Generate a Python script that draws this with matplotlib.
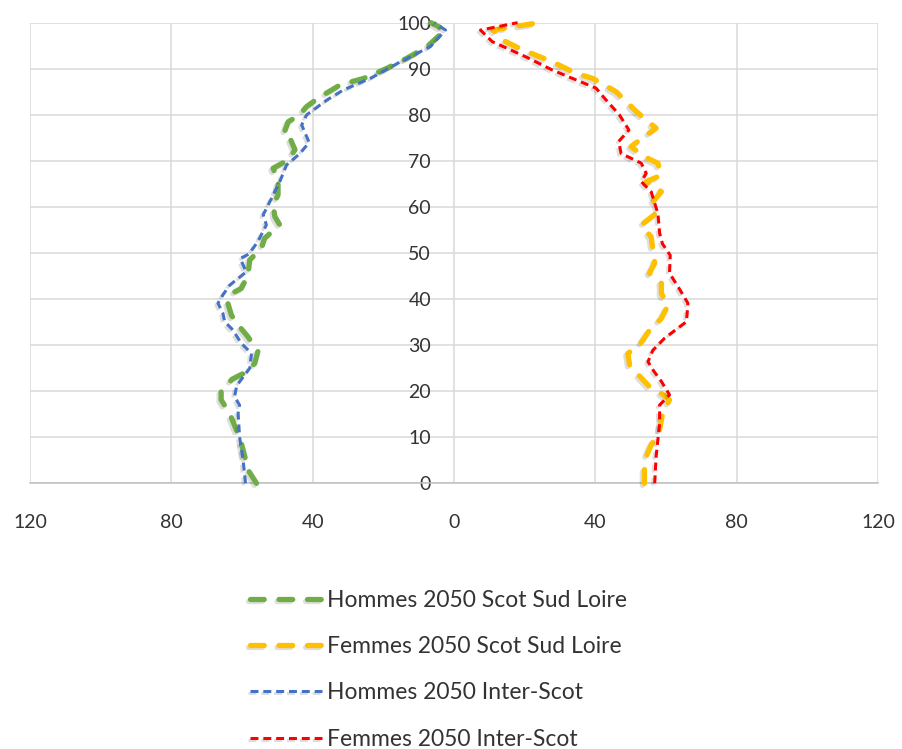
import matplotlib
matplotlib.use('Agg')
import matplotlib.pyplot as plt
from matplotlib import patheffects as pe

# ---- data ----
ages_h_sud = [0, 2.9, 5.8, 8.7, 11.6, 15.2, 18.1, 19.9, 22.6, 23.9, 26.0, 28.6, 31.8, 34.0, 36.5,
              39.1, 41.2, 42.3, 45.2, 48.5, 51.0, 53.2, 56.1, 57.9, 60.4, 62.6, 65.8, 68.4, 70.2,
              72.4, 74.9, 75.6, 78.5, 80.0, 81.8, 83.9, 86.5, 87.9, 90.1, 92.3, 94.8, 98.4, 100]
vals_h_sud = [55.9, 58.3, 59.2, 60.2, 61.6, 63.5, 65.9, 65.9, 62.8, 59.5, 56.4, 55.5, 58.3, 60.7, 63.0,
              64.0, 63.0, 60.2, 58.3, 57.8, 54.5, 53.6, 49.3, 50.7, 51.2, 49.8, 49.8, 51.2, 46.9,
              45.0, 46.4, 48.3, 46.9, 43.6, 41.7, 37.9, 32.2, 25.6, 19.0, 13.3, 7.6, 2.5, 6.5]

ages_f_sud = [0, 2.9, 5.8, 8.3, 11.6, 15.5, 18.1, 19.5, 21.0, 23.3, 25.7, 28.2, 30.0, 33.3, 35.8,
              38.7, 41.2, 43.4, 45.6, 47.8, 50.7, 53.5, 56.1, 58.6, 61.1, 63.3, 65.5, 66.9, 69.5,
              70.9, 73.1, 74.5, 77.1, 80.7, 85.0, 87.9, 89.0, 91.5, 94.1, 95.9, 98.4, 100]
vals_f_sud = [53.9, 53.9, 54.4, 55.8, 58.2, 59.1, 61.0, 58.7, 55.3, 52.5, 49.7, 49.2, 52.5, 55.4, 58.7,
              60.6, 58.7, 58.7, 55.3, 56.8, 56.3, 55.8, 53.0, 57.2, 56.3, 58.7, 54.4, 58.7, 57.7,
              53.9, 50.1, 52.5, 57.2, 51.6, 45.9, 39.3, 34.5, 27.9, 19.4, 14.6, 11.0, 24.0]

ages_h_inter = [0, 5.1, 10.1, 15.2, 17.0, 18.8, 21.2, 25.0, 28.2, 30.4, 33.3, 35.1, 36.9, 39.1, 40.9,
                43.0, 45.9, 48.8, 49.8, 52.5, 56.1, 58.3, 60.4, 65.5, 69.1, 71.6, 74.0, 77.8, 80.0,
                83.2, 85.4, 87.9, 91.5, 94.8, 98.4, 100]
vals_h_inter = [59.0, 59.7, 60.7, 61.1, 60.7, 62.1, 61.5, 57.8, 57.3, 60.2, 62.6, 64.9, 65.4, 66.8, 65.4,
                63.5, 58.8, 60.5, 58.0, 55.5, 53.1, 54.0, 52.6, 49.3, 47.4, 43.6, 41.0, 43.1, 41.7,
                36.0, 31.3, 23.7, 15.2, 6.7, 2.4, 5.5]

ages_f_inter = [0, 5.8, 13.0, 17.0, 19.2, 22.1, 24.4, 26.4, 28.9, 31.5, 33.7, 35.1, 39.1, 42.7, 45.6,
                49.5, 52.0, 54.3, 58.6, 60.8, 63.3, 65.5, 67.3, 69.5, 71.6, 74.2, 76.7, 80.0, 83.6,
                85.8, 87.6, 89.7, 92.6, 95.9, 98.4, 100]
vals_f_inter = [56.8, 57.2, 58.2, 58.2, 61.0, 58.7, 56.5, 54.9, 56.3, 59.6, 63.4, 65.8, 66.2, 63.4, 61.0,
                61.2, 59.0, 58.2, 57.7, 56.8, 55.8, 53.0, 54.4, 53.0, 47.3, 46.6, 49.5, 46.8, 42.6,
                40.2, 34.5, 27.9, 20.3, 10.8, 7.5, 18.0]

series_labels = ["Hommes 2050 Scot Sud Loire", "Femmes 2050 Scot Sud Loire",
                 "Hommes 2050 Inter-Scot", "Femmes 2050 Inter-Scot"]
x_ticks = [-120, -80, -40, 0, 40, 80, 120]
x_tick_labels = ["120", "80", "40", "0", "40", "80", "120"]
y_ticks = list(range(0, 101, 10))

# ---- styling ----
plt.rcParams['font.family'] = ['Lato', 'DejaVu Sans']
FS = 14
LFS = 16.5
TXT = '#333333'
GRID = '#D9D9D9'

fig = plt.figure(figsize=(9.03, 7.49), dpi=100)
W, H = 903, 749
ax = fig.add_axes([30 / W, 1 - 483.3 / H, (878 - 30) / W, (483.3 - 22.7) / H])

shadow = [pe.SimpleLineShadow(offset=(-1.5, -1.5), shadow_color='black', alpha=0.13),
          pe.Normal()]

thick = dict(lw=3.8, dashes=(2.6, 2.8), dash_capstyle='round', solid_capstyle='round')
thin = dict(lw=2.2, dashes=(2.6, 1.6), dash_capstyle='butt')

series = [
    ([-v for v in vals_h_sud], ages_h_sud, '#70AD47', thick),
    (vals_f_sud, ages_f_sud, '#FFC000', thick),
    ([-v for v in vals_h_inter], ages_h_inter, '#4472C4', thin),
    (vals_f_inter, ages_f_inter, '#FF0000', thin),
]
handles = []
for (xs, ys, col, st), lab in zip(series, series_labels):
    ln, = ax.plot(xs, ys, color=col, label=lab, clip_on=False, zorder=3,
                  path_effects=shadow, **st)
    handles.append(ln)

ax.set_xlim(-120, 120)
ax.set_ylim(0, 100)
ax.set_xticks(x_ticks)
ax.set_xticklabels(x_tick_labels)
ax.set_yticks(y_ticks)

ax.grid(True, color=GRID, lw=1.1, zorder=0)
ax.set_axisbelow(True)
for s in ['top', 'right']:
    ax.spines[s].set_visible(False)
ax.spines['left'].set_position(('data', 0))
ax.spines['left'].set_visible(False)
ax.spines['bottom'].set_color('#BFBFBF')
ax.spines['bottom'].set_linewidth(1.1)

ax.tick_params(axis='y', length=0, pad=16.5, labelsize=FS, labelcolor=TXT)
ax.tick_params(axis='x', length=0, pad=22, labelsize=FS, labelcolor=TXT)

leg = fig.legend(handles=handles, labels=series_labels, loc='upper left',
                 bbox_to_anchor=(250 / W, 1 - 590 / H), frameon=False,
                 fontsize=LFS, handlelength=3.15, handletextpad=0.22,
                 labelspacing=1.1, borderpad=0, borderaxespad=0)
for t in leg.get_texts():
    t.set_color(TXT)

fig.savefig('out.png', dpi=100)
